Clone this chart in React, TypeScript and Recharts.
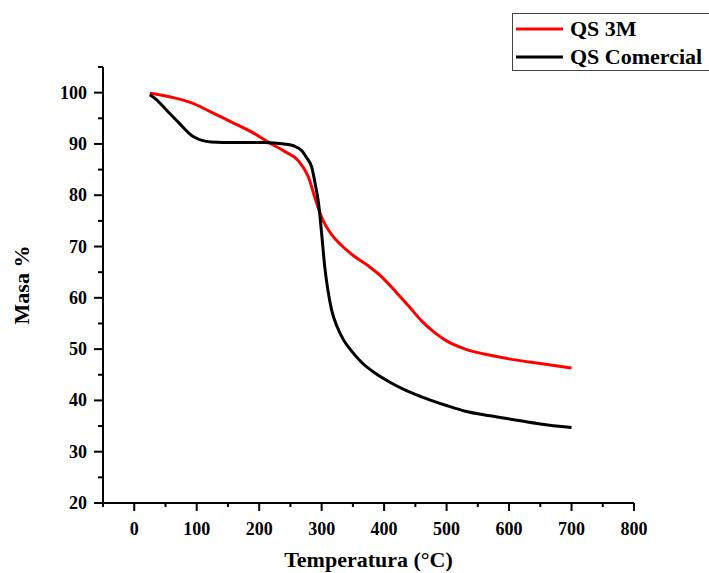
import { Line, LineChart, XAxis, YAxis } from "recharts";

// QS 3M
const temp3M = [25, 40, 60, 90, 120, 155, 187, 214, 240, 262, 279, 289, 300, 316, 332, 350, 375, 397, 420, 440, 460, 480, 500, 530, 570, 610, 650, 700];
const masa3M = [99.9, 99.6, 99.1, 98.1, 96.4, 94.3, 92.4, 90.4, 88.6, 86.8, 83.5, 79.6, 75.7, 72.3, 70.2, 68.3, 66.2, 64.0, 61.0, 58.3, 55.5, 53.3, 51.6, 50.0, 48.8, 47.9, 47.2, 46.3];

// QS Comercial
const tempCom = [25, 35, 50, 70, 95, 123, 160, 208, 240, 256, 268, 276, 284, 290, 295, 300, 305, 310, 316, 325, 335, 348, 365, 386, 410, 434, 460, 500, 530, 570, 610, 650, 700];
const masaCom = [99.6, 98.7, 96.8, 94.3, 91.4, 90.4, 90.3, 90.3, 90.0, 89.6, 88.7, 87.3, 85.5, 82.0, 78.5, 72.5, 66.0, 61.5, 57.6, 54.3, 51.8, 49.6, 47.3, 45.3, 43.5, 42.0, 40.7, 39.0, 37.9, 37.0, 36.2, 35.4, 34.7];

const xTicks = [-50, 0, 50, 100, 150, 200, 250, 300, 350, 400, 450, 500, 550, 600, 650, 700, 750, 800];
const yTicks = [20, 25, 30, 35, 40, 45, 50, 55, 60, 65, 70, 75, 80, 85, 90, 95, 100, 105];

const data3M = temp3M.map((t, i) => ({ t, m: masa3M[i] }));
const dataCom = tempCom.map((t, i) => ({ t, m: masaCom[i] }));

const FONT = "'Liberation Serif', 'Times New Roman', serif";

function XTick(props: any) {
  const { x, y, payload } = props;
  const v = payload.value;
  const major = v % 100 === 0;
  return (
    <g>
      <line x1={x} x2={x} y1={y} y2={y + (major ? 8 : 4)} stroke="#000" strokeWidth={2} />
      {major && (
        <text x={x} y={y + 32} textAnchor="middle" fontFamily={FONT} fontWeight="bold" fontSize={18} fill="#000">
          {v}
        </text>
      )}
    </g>
  );
}

function YTick(props: any) {
  const { x, y, payload } = props;
  const v = payload.value;
  const major = v % 10 === 0;
  return (
    <g>
      <line x1={x} x2={x - (major ? 9 : 5)} y1={y} y2={y} stroke="#000" strokeWidth={2} />
      {major && (
        <text x={x - 16} y={y + 6} textAnchor="end" fontFamily={FONT} fontWeight="bold" fontSize={18} fill="#000">
          {v}
        </text>
      )}
    </g>
  );
}

function LegendBox() {
  return (
    <svg width={200} height={60} style={{ position: "absolute", left: 512, top: 13 }}>
      <rect x={0.5} y={0.5} width={205} height={57} fill="#fff" stroke="#444" />
      <line x1={4} x2={51} y1={16} y2={16} stroke="#ff0000" strokeWidth={3} />
      <text x={58} y={23} fontFamily={FONT} fontWeight="bold" fontSize={22} fill="#000">QS 3M</text>
      <line x1={4} x2={51} y1={44} y2={44} stroke="#000" strokeWidth={3} />
      <text x={58} y={51} fontFamily={FONT} fontWeight="bold" fontSize={22} fill="#000">QS Comercial</text>
    </svg>
  );
}

export default function App() {
  return (
    <div style={{ position: "absolute", left: 0, top: 0, width: 709, height: 573, overflow: "hidden", background: "#fff" }}>
      <LineChart width={709} height={573} margin={{ top: 67, right: 75, bottom: 40, left: 43 }}>
        <XAxis
          type="number"
          dataKey="t"
          domain={[-50, 800]}
          ticks={xTicks}
          interval={0}
          allowDataOverflow
          height={30}
          tickSize={0}
          tickMargin={0}
          tickLine={false}
          tick={<XTick />}
          axisLine={{ stroke: "#000", strokeWidth: 2 }}
          label={{ value: "Temperatura (°C)", position: "insideBottom", offset: -34, fontFamily: FONT, fontWeight: "bold", fontSize: 22, fill: "#000" }}
        />
        <YAxis
          type="number"
          domain={[20, 105]}
          ticks={yTicks}
          interval={0}
          allowDataOverflow
          width={60}
          tickSize={0}
          tickMargin={0}
          tickLine={false}
          tick={<YTick />}
          axisLine={{ stroke: "#000", strokeWidth: 2 }}
          label={{ value: "Masa %", angle: -90, position: "insideLeft", offset: -22, fontFamily: FONT, fontWeight: "bold", fontSize: 22, fill: "#000", style: { textAnchor: "middle" } }}
        />
        <Line data={data3M} dataKey="m" type="monotone" stroke="#ff0000" strokeWidth={3} dot={false} isAnimationActive={false} />
        <Line data={dataCom} dataKey="m" type="monotone" stroke="#000" strokeWidth={3} dot={false} isAnimationActive={false} />
      </LineChart>
      <LegendBox />
    </div>
  );
}
